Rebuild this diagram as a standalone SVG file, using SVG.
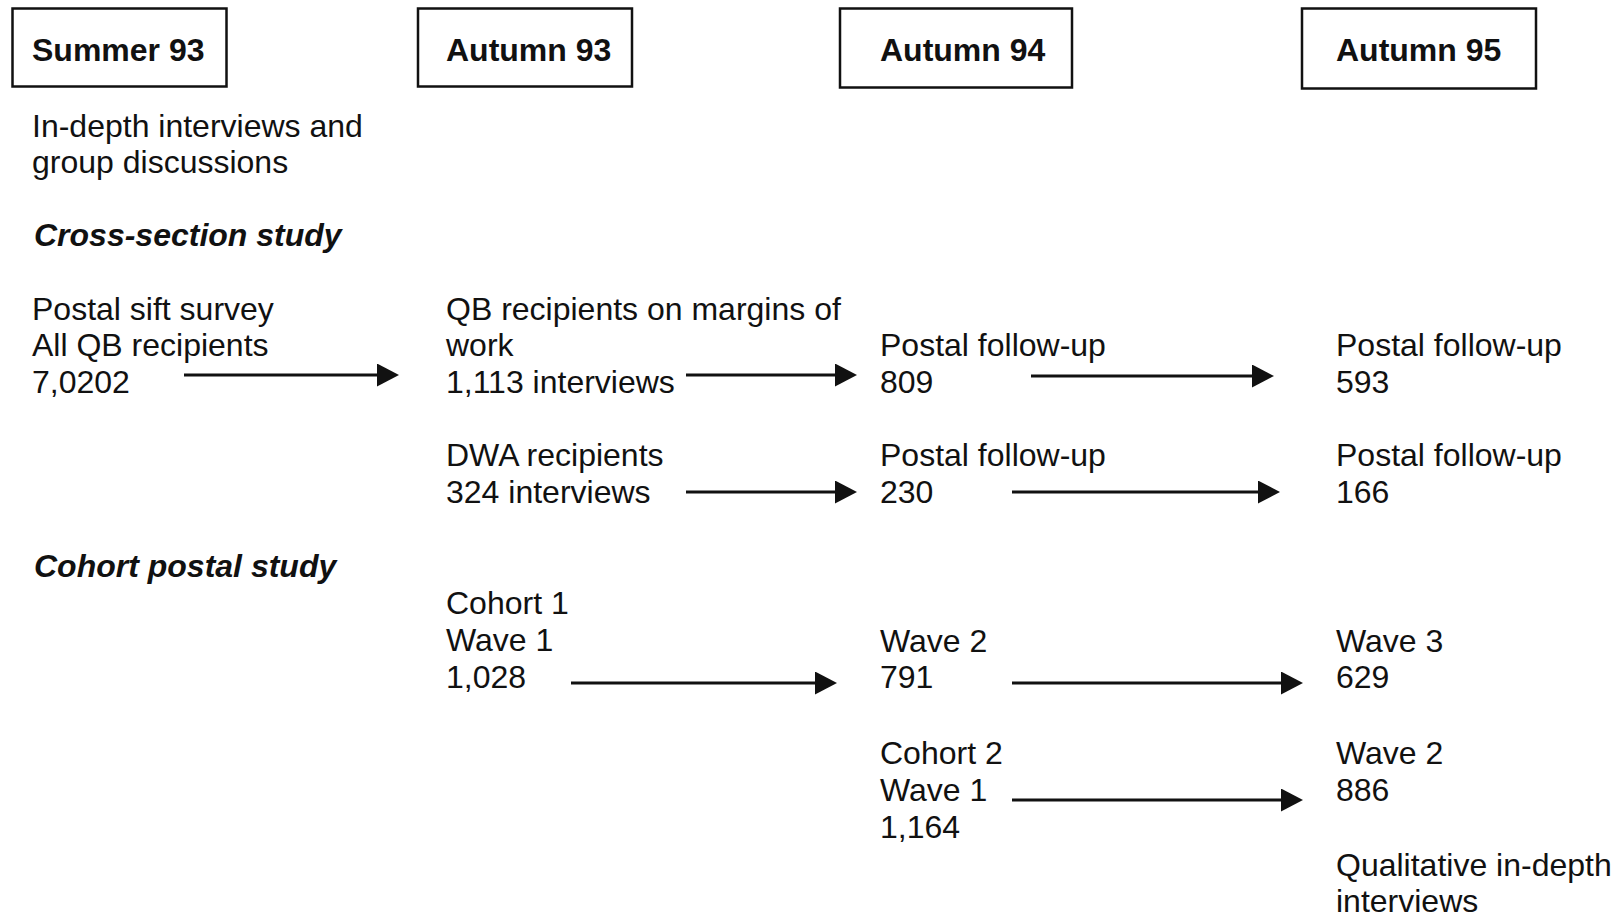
<svg xmlns="http://www.w3.org/2000/svg" width="1621" height="918" viewBox="0 0 1621 918">
<style>
  text { font-family: "Liberation Sans", Arial, sans-serif; font-size: 32px; fill: #111; }
  .hdr { font-weight: bold; }
  .sec { font-weight: bold; font-style: italic; }
  .box { fill: #fff; stroke: #111; stroke-width: 2.5; }
  .arr { stroke: #111; stroke-width: 3; fill: none; marker-end: url(#ah); }
</style>
<defs>
  <marker id="ah" markerUnits="userSpaceOnUse" markerWidth="22" markerHeight="23" viewBox="0 0 22 23" refX="10" refY="11.5" orient="auto">
    <path d="M0 0 L22 11.5 L0 23 Z" fill="#111"/>
  </marker>
</defs>
<rect width="1621" height="918" fill="#fff"/>

<g id="hdr-summer93"><rect class="box" x="12.5" y="8.5" width="214" height="78"/><text class="hdr" x="32" y="61">Summer 93</text></g>
<g id="hdr-autumn93"><rect class="box" x="418" y="8.5" width="214" height="78"/><text class="hdr" x="446" y="61">Autumn 93</text></g>
<g id="hdr-autumn94"><rect class="box" x="840" y="8.5" width="232" height="79"/><text class="hdr" x="880" y="61">Autumn 94</text></g>
<g id="hdr-autumn95"><rect class="box" x="1302" y="8.5" width="234" height="80"/><text class="hdr" x="1336" y="61">Autumn 95</text></g>

<g id="n-indepth"><text x="32" y="136.5">In-depth interviews and</text><text x="32" y="172.5">group discussions</text></g>
<g id="sec-cross"><text class="sec" x="34" y="246">Cross-section study</text></g>

<g id="n-sift"><text x="32" y="319.5">Postal sift survey</text><text x="32" y="356">All QB recipients</text><text x="32" y="392.5">7,0202</text></g>
<g id="n-qb"><text x="446" y="319.5">QB recipients on margins of</text><text x="446" y="356">work</text><text x="446" y="392.5">1,113 interviews</text></g>
<g id="n-qb94"><text x="880" y="356">Postal follow-up</text><text x="880" y="392.5">809</text></g>
<g id="n-qb95"><text x="1336" y="356">Postal follow-up</text><text x="1336" y="392.5">593</text></g>

<g id="n-dwa"><text x="446" y="466">DWA recipients</text><text x="446" y="503">324 interviews</text></g>
<g id="n-dwa94"><text x="880" y="466">Postal follow-up</text><text x="880" y="503">230</text></g>
<g id="n-dwa95"><text x="1336" y="466">Postal follow-up</text><text x="1336" y="503">166</text></g>

<g id="sec-cohort"><text class="sec" x="34" y="577">Cohort postal study</text></g>

<g id="n-c1w1"><text x="446" y="614">Cohort 1</text><text x="446" y="651">Wave 1</text><text x="446" y="688">1,028</text></g>
<g id="n-c1w2"><text x="880" y="652">Wave 2</text><text x="880" y="688">791</text></g>
<g id="n-c1w3"><text x="1336" y="652">Wave 3</text><text x="1336" y="688">629</text></g>

<g id="n-c2w1"><text x="880" y="764">Cohort 2</text><text x="880" y="801">Wave 1</text><text x="880" y="838">1,164</text></g>
<g id="n-c2w2"><text x="1336" y="764">Wave 2</text><text x="1336" y="801">886</text></g>
<g id="n-qual"><text x="1336" y="876">Qualitative in-depth</text><text x="1336" y="912">interviews</text></g>

<g id="connectors">
  <line class="arr" x1="184" y1="375" x2="387" y2="375"/>
  <line class="arr" x1="686" y1="375" x2="845" y2="375"/>
  <line class="arr" x1="1031" y1="376" x2="1262" y2="376"/>
  <line class="arr" x1="686" y1="492" x2="845" y2="492"/>
  <line class="arr" x1="1012" y1="492" x2="1268" y2="492"/>
  <line class="arr" x1="571" y1="683" x2="825" y2="683"/>
  <line class="arr" x1="1012" y1="683" x2="1291" y2="683"/>
  <line class="arr" x1="1012" y1="800" x2="1291" y2="800"/>
</g>
</svg>
